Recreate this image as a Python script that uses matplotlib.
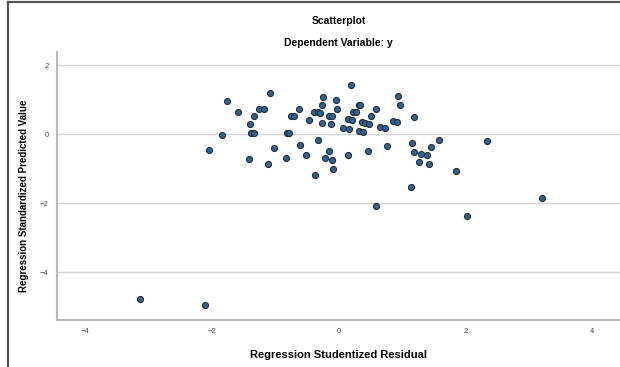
import matplotlib
matplotlib.use("Agg")
import matplotlib.pyplot as plt
from matplotlib.lines import Line2D

plt.rcParams['font.family'] = ['Liberation Sans', 'DejaVu Sans']

# studentized residuals (x) and standardized predicted values (y)
resid = [-1.76, -1.58, -1.08, -1.25, -1.18, -1.33, -1.40, -1.38, -1.34, -1.84,
         -2.05, -1.41, -1.11, -1.01, -0.83, -0.82, -0.78, -0.75, -0.71, -0.63,
         -0.60, -0.51, -0.47, -0.37, -0.32, -0.39, -0.33, -0.29, -0.26, -0.25,
         -0.26, -0.15, -0.10, -0.12, -0.04, -0.02, -0.15, -0.22, -0.11, -0.09,
         0.15, 0.20, 0.07, 0.17, 0.15, 0.21, 0.23, 0.27, 0.32, 0.34,
         0.37, 0.42, 0.48, 0.32, 0.39, 0.47, 0.51, 0.59, 0.65, 0.73,
         0.59, 0.86, 0.92, 0.94, 0.97, 1.19, 0.76, 1.15, 1.16, 1.19,
         1.30, 1.39, 1.27, 1.42, 1.46, 1.58, 1.86, 2.34, 2.03, 3.21,
         -3.13, -2.10]
pred = [0.96, 0.63, 1.18, 0.74, 0.72, 0.52, 0.30, 0.02, 0.02, -0.03,
        -0.46, -0.72, -0.86, -0.39, -0.70, 0.04, 0.04, 0.54, 0.54, 0.73,
        -0.30, -0.59, 0.41, -1.18, -0.17, 0.64, 0.64, 0.62, 0.86, 1.09,
        0.33, 0.53, 0.53, 0.29, 1.00, 0.74, -0.49, -0.70, -0.75, -1.01,
        -0.61, 1.42, 0.19, 0.15, 0.43, 0.41, 0.64, 0.64, 0.86, 0.86,
        0.34, 0.31, 0.29, 0.09, 0.07, -0.48, 0.52, 0.74, 0.21, 0.17,
        -2.07, 0.39, 0.36, 1.11, 0.86, 0.50, -0.33, -1.54, -0.26, -0.53,
        -0.57, -0.61, -0.81, -0.87, -0.38, -0.17, -1.06, -0.20, -2.37, -1.85,
        -4.79, -4.95]

xticks = [-4, -2, 0, 2, 4]
yticks = [2, 0, -2, -4]

fig = plt.figure(figsize=(6.2, 3.67), dpi=100)
ax = fig.add_axes([0.092, 0.128, 0.908, 0.73])

ax.scatter(resid, pred, s=19, color='#33628a', edgecolors='#1c2f40', linewidths=0.8, zorder=3)

ax.set_xlim(-4.44, 4.44)
ax.set_ylim(-5.39, 2.38)
ax.set_xticks(xticks)
ax.set_yticks(yticks)
ax.tick_params(length=0, labelsize=5.5, labelcolor='#444444', pad=6)
ax.grid(axis='y', color='#d4d4d4', linewidth=1)
ax.set_axisbelow(True)

for s in ['top', 'right']:
    ax.spines[s].set_visible(False)
for s in ['left', 'bottom']:
    ax.spines[s].set_color('#b8b8b8')
    ax.spines[s].set_linewidth(1.5)

ax.set_xlabel('Regression Studentized Residual', fontsize=8, fontweight='bold')
ax.set_ylabel('Regression Standardized Predicted Value', fontsize=7, fontweight='bold')
ax.xaxis.set_label_coords(0.5, -0.112)
ax.yaxis.set_label_coords(-0.05, 0.463)

# titles
fig.text(0.546, 0.943, 'Scatterplot', ha='center', va='center', fontsize=7.5, fontweight='bold')
fig.text(0.546, 0.883, 'Dependent Variable: y', ha='center', va='center', fontsize=7.5, fontweight='bold')

# outer frame (left and top edges visible)
fig.add_artist(Line2D([8 / 620, 8 / 620], [0, 1 - 2 / 367], color='#555555', lw=1.6))
fig.add_artist(Line2D([8 / 620, 1], [1 - 2 / 367, 1 - 2 / 367], color='#555555', lw=1.6))

fig.savefig('out.png', dpi=100)
